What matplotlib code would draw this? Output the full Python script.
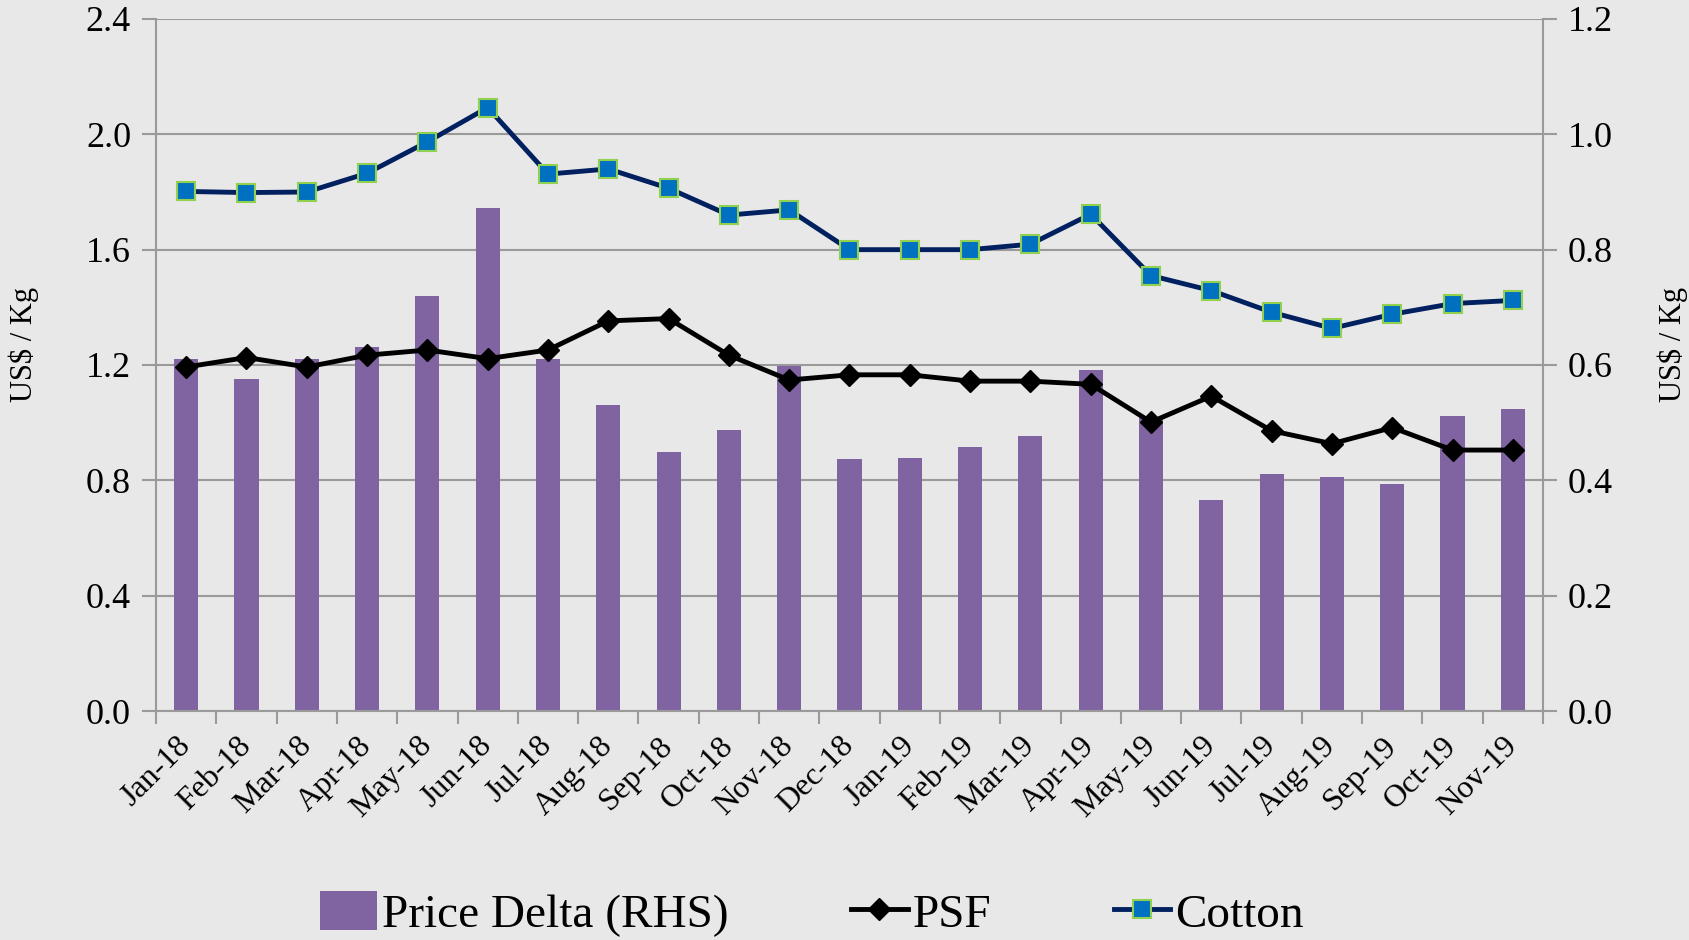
import matplotlib
matplotlib.use("Agg")
import matplotlib.pyplot as plt
import numpy as np
from matplotlib.patches import Patch
from matplotlib.lines import Line2D

months = ["Jan-18", "Feb-18", "Mar-18", "Apr-18", "May-18", "Jun-18", "Jul-18", "Aug-18",
          "Sep-18", "Oct-18", "Nov-18", "Dec-18", "Jan-19", "Feb-19", "Mar-19", "Apr-19",
          "May-19", "Jun-19", "Jul-19", "Aug-19", "Sep-19", "Oct-19", "Nov-19"]
price_delta = [0.61, 0.575, 0.61, 0.632, 0.72, 0.873, 0.61, 0.53, 0.449, 0.488, 0.598, 0.437,
               0.439, 0.458, 0.477, 0.591, 0.51, 0.366, 0.411, 0.406, 0.394, 0.512, 0.523]
psf = [1.193, 1.226, 1.193, 1.234, 1.252, 1.222, 1.252, 1.353, 1.361, 1.234, 1.148, 1.166,
       1.166, 1.144, 1.144, 1.133, 1.002, 1.092, 0.972, 0.927, 0.983, 0.905, 0.905]
cotton = [1.802, 1.798, 1.80, 1.865, 1.974, 2.093, 1.862, 1.880, 1.813, 1.720, 1.738, 1.60,
          1.60, 1.60, 1.619, 1.723, 1.510, 1.458, 1.383, 1.327, 1.376, 1.413, 1.424]

plt.rcParams['font.family'] = ['Liberation Serif', 'DejaVu Serif']

fig = plt.figure(figsize=(16.9, 9.4), dpi=100, facecolor='#e8e8e8')
ax_bar = fig.add_axes([156/1690, 1-711/940, (1543-156)/1690, (711-19)/940])
ax_bar.set_facecolor('none')
ax_line = ax_bar.twinx()
x = np.arange(len(months))

grid_col = '#9a9a9a'
# bars on right axis
ax_bar.bar(x, price_delta, width=0.4, color='#8064A2', zorder=2)
ax_bar.set_ylim(0, 1.2)
rt = np.arange(0, 1.21, 0.2)
ax_bar.set_yticks(rt)
ax_bar.set_yticklabels([f"{v:.1f}" for v in rt])
ax_bar.yaxis.tick_right()
ax_bar.grid(axis='y', color=grid_col, linewidth=1.5, zorder=0)
ax_bar.set_axisbelow(True)
ax_bar.set_xlim(-0.5, len(months) - 0.5)
ax_bar.set_xticks(x)
ax_bar.set_xticklabels(months, rotation=45, ha='right', va='center', rotation_mode='anchor', fontsize=23)
ax_bar.tick_params(axis='x', which='major', length=0, pad=22)
ax_bar.set_xticks(np.arange(-0.5, len(months), 1.0), minor=True)
ax_bar.tick_params(axis='x', which='minor', length=9, width=1.5, color=grid_col, direction='out')
ax_bar.tick_params(axis='y', labelsize=26, length=10, width=1.5, color=grid_col, direction='out', pad=8)
ax_bar.spines['top'].set_visible(False)
for s in ['left', 'right', 'bottom']:
    ax_bar.spines[s].set_color(grid_col)
    ax_bar.spines[s].set_linewidth(1.5)

# lines on left axis
ax_line.yaxis.tick_left()
ax_line.set_ylim(0, 2.4)
lt = np.arange(0, 2.41, 0.4)
ax_line.set_yticks(lt)
ax_line.set_yticklabels([f"{v:.1f}" for v in lt])
ax_line.tick_params(axis='y', labelsize=26, length=10, width=1.5, color=grid_col, direction='out', pad=8)
for s in ['top', 'right', 'bottom', 'left']:
    ax_line.spines[s].set_visible(False)

ax_line.plot(x, psf, color='black', linewidth=3.5, marker='D', markersize=11,
             markerfacecolor='black', markeredgecolor='black', zorder=3)
ax_line.plot(x, cotton, color='#002060', linewidth=3.5, marker='s', markersize=13,
             markerfacecolor='#0070C0', markeredgecolor='#92D050', markeredgewidth=1.5, zorder=4)

fig.text(24/1690, 1-344/940, "US$ / Kg", rotation=90, fontsize=22, ha='center', va='center')
fig.text(1673/1690, 1-344/940, "US$ / Kg", rotation=90, fontsize=22, ha='center', va='center')

handles = [Patch(facecolor='#8064A2', edgecolor='none'),
           Line2D([0], [0], color='black', linewidth=3.5, marker='D', markersize=11),
           Line2D([0], [0], color='#002060', linewidth=3.5, marker='s', markersize=13,
                  markerfacecolor='#0070C0', markeredgecolor='#92D050', markeredgewidth=1.5)]
labels = ["Price Delta (RHS)", "PSF", "Cotton"]
fig.legend(handles, labels, loc='center', bbox_to_anchor=(812/1690, 1-914/940), ncol=3,
           frameon=False, fontsize=34, handlelength=1.2, handletextpad=0.1, columnspacing=2.6,
           handleheight=0.9)

fig.savefig("out.png", dpi=100, facecolor=fig.get_facecolor())
